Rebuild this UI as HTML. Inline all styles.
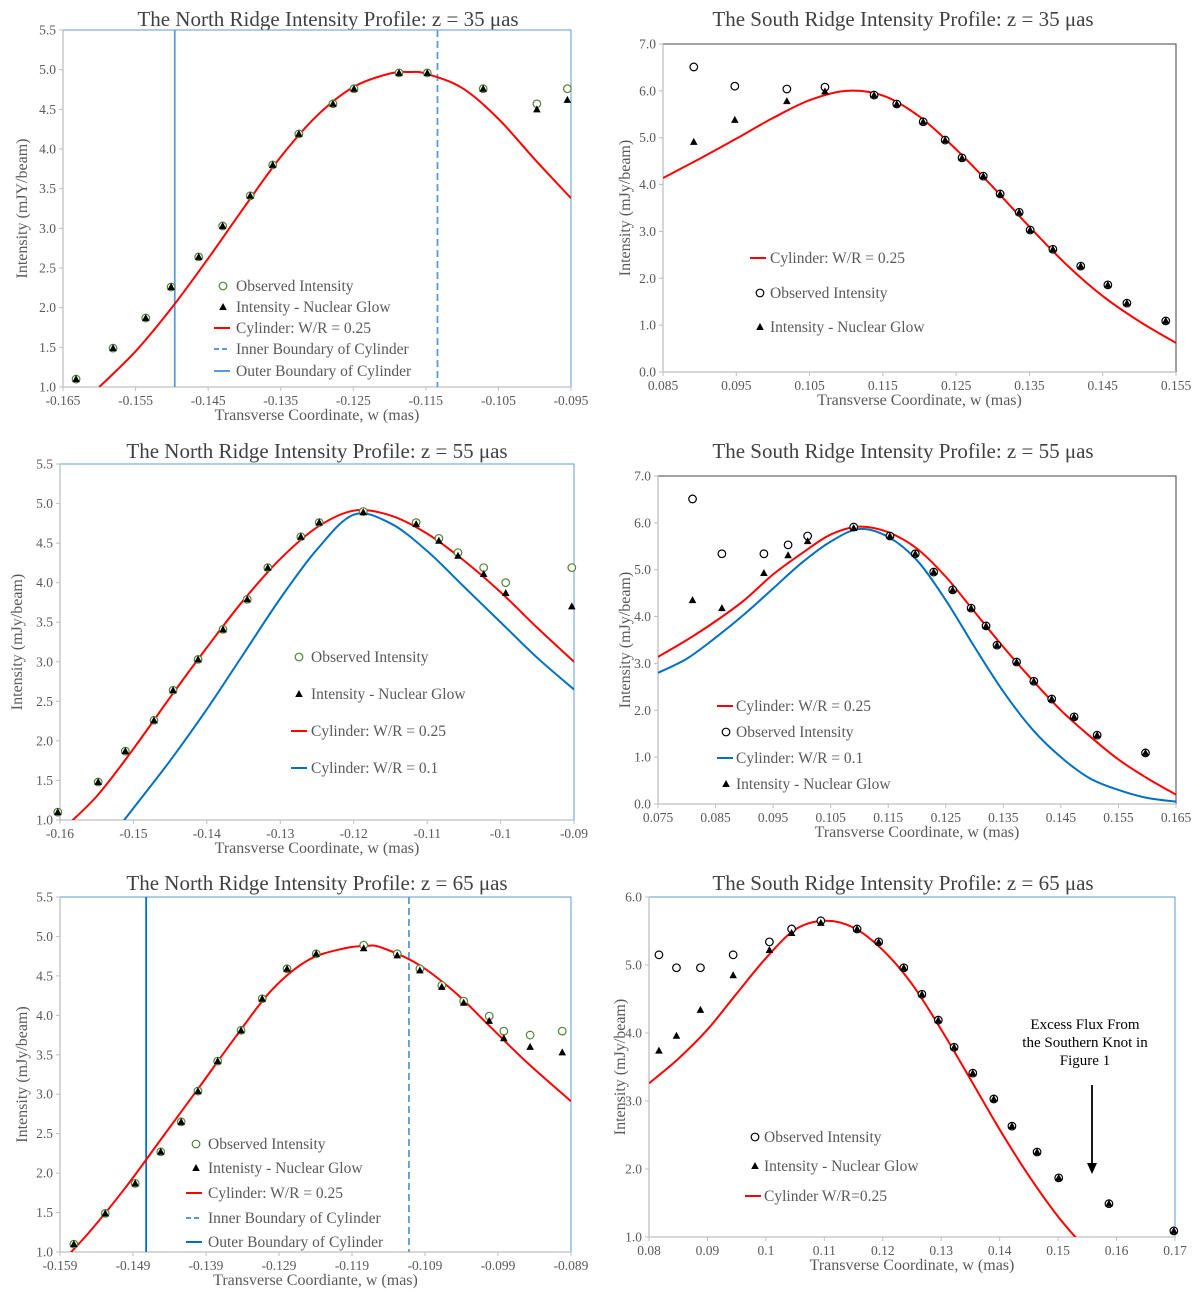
<!DOCTYPE html>
<html><head><meta charset="utf-8"><style>
html,body{margin:0;padding:0;background:#fff;}
svg{display:block;font-family:"Liberation Serif",serif;}
svg text{font-family:"Liberation Serif",serif;}
</style></head><body>
<svg id="fig" width="1200" height="1292" viewBox="0 0 1200 1292" xmlns="http://www.w3.org/2000/svg"></svg>
<script>
// ---- Panel 1: North z=35 ----
const p1ObsW=[-0.1632,-0.1581,-0.1536,-0.1501,-0.1463,-0.1430,-0.1392,-0.1361,-0.1325,-0.1278,-0.1249,-0.1187,-0.1148,-0.1071,-0.0997,-0.0955];
const p1ObsV=[1.10,1.49,1.87,2.26,2.64,3.03,3.41,3.80,4.19,4.57,4.76,4.96,4.96,4.76,4.57,4.76];
const p1TriW=[-0.1632,-0.1581,-0.1536,-0.1501,-0.1463,-0.1430,-0.1392,-0.1361,-0.1325,-0.1278,-0.1249,-0.1187,-0.1148,-0.1071,-0.0997,-0.0955];
const p1TriV=[1.10,1.49,1.87,2.26,2.64,3.03,3.41,3.80,4.19,4.57,4.76,4.96,4.96,4.76,4.50,4.62];
const p1CurveW=[-0.160,-0.155,-0.150,-0.145,-0.140,-0.135,-0.130,-0.125,-0.120,-0.117,-0.115,-0.110,-0.105,-0.100,-0.095];
const p1CurveV=[1.00,1.45,2.00,2.62,3.27,3.90,4.42,4.78,4.95,4.97,4.95,4.77,4.38,3.87,3.38];
const p1XTicks=[-0.165,-0.155,-0.145,-0.135,-0.125,-0.115,-0.105,-0.095];
const p1YTicks=[1.0,1.5,2.0,2.5,3.0,3.5,4.0,4.5,5.0,5.5];
const p1Bounds=[-0.1496,-0.1134];
// ---- Panel 2: South z=35 ----
const p2ObsW=[0.0892,0.0948,0.1019,0.1071,0.1138,0.1169,0.1205,0.1235,0.1258,0.1287,0.1310,0.1336,0.1351,0.1382,0.1420,0.1457,0.1483,0.1536];
const p2ObsV=[6.51,6.10,6.04,6.08,5.91,5.72,5.34,4.95,4.57,4.18,3.80,3.41,3.03,2.62,2.26,1.86,1.47,1.09];
const p2TriW=[0.0892,0.0948,0.1019,0.1071,0.1138,0.1169,0.1205,0.1235,0.1258,0.1287,0.1310,0.1336,0.1351,0.1382,0.1420,0.1457,0.1483,0.1536];
const p2TriV=[4.91,5.38,5.78,5.99,5.91,5.72,5.34,4.95,4.57,4.18,3.80,3.41,3.03,2.62,2.26,1.86,1.47,1.09];
const p2CurveW=[0.085,0.09,0.095,0.1,0.105,0.11,0.115,0.12,0.125,0.13,0.135,0.14,0.145,0.15,0.155];
const p2CurveV=[4.14,4.55,4.98,5.42,5.80,6.00,5.90,5.45,4.75,3.95,3.10,2.30,1.62,1.08,0.62];
const p2XTicks=[0.085,0.095,0.105,0.115,0.125,0.135,0.145,0.155];
const p2YTicks=[0,1,2,3,4,5,6,7];
// ---- Panel 3: North z=55 ----
const p3ObsW=[-0.1603,-0.1548,-0.1511,-0.1472,-0.1446,-0.1412,-0.1378,-0.1345,-0.1317,-0.1272,-0.1247,-0.1187,-0.1115,-0.1084,-0.1058,-0.1023,-0.0993,-0.0903];
const p3ObsV=[1.10,1.48,1.87,2.26,2.64,3.03,3.41,3.79,4.19,4.58,4.76,4.90,4.76,4.56,4.38,4.19,4.00,4.19];
const p3TriW=[-0.1603,-0.1548,-0.1511,-0.1472,-0.1446,-0.1412,-0.1378,-0.1345,-0.1317,-0.1272,-0.1247,-0.1187,-0.1115,-0.1084,-0.1058,-0.1023,-0.0993,-0.0903];
const p3TriV=[1.10,1.48,1.87,2.26,2.64,3.03,3.41,3.79,4.19,4.58,4.76,4.89,4.74,4.53,4.34,4.11,3.87,3.70];
const p3RedW=[-0.16,-0.155,-0.15,-0.145,-0.14,-0.135,-0.13,-0.125,-0.12,-0.115,-0.11,-0.105,-0.1,-0.095,-0.09];
const p3RedV=[0.85,1.30,1.90,2.55,3.18,3.78,4.30,4.70,4.91,4.85,4.62,4.28,3.88,3.43,3.00];
const p3BlueW=[-0.155,-0.15,-0.145,-0.14,-0.135,-0.13,-0.125,-0.12,-0.115,-0.11,-0.105,-0.1,-0.095,-0.09];
const p3BlueV=[0.55,1.15,1.75,2.40,3.10,3.80,4.42,4.86,4.75,4.40,3.95,3.50,3.05,2.65];
const p3XTicks=[-0.16,-0.15,-0.14,-0.13,-0.12,-0.11,-0.1,-0.09];
const p3YTicks=[1.0,1.5,2.0,2.5,3.0,3.5,4.0,4.5,5.0,5.5];
// ---- Panel 4: South z=55 ----
const p4ObsW=[0.0810,0.0861,0.0934,0.0976,0.1010,0.1090,0.1153,0.1197,0.1229,0.1262,0.1294,0.1320,0.1339,0.1373,0.1403,0.1434,0.1473,0.1513,0.1597];
const p4ObsV=[6.51,5.34,5.34,5.53,5.72,5.91,5.72,5.34,4.95,4.57,4.18,3.80,3.39,3.03,2.62,2.24,1.86,1.47,1.09];
const p4TriW=[0.0810,0.0861,0.0934,0.0976,0.1010,0.1090,0.1153,0.1197,0.1229,0.1262,0.1294,0.1320,0.1339,0.1373,0.1403,0.1434,0.1473,0.1513,0.1597];
const p4TriV=[4.35,4.18,4.93,5.31,5.61,5.89,5.72,5.34,4.95,4.57,4.18,3.80,3.39,3.03,2.62,2.24,1.86,1.47,1.09];
const p4RedW=[0.075,0.08,0.085,0.09,0.095,0.1,0.105,0.11,0.115,0.12,0.125,0.13,0.135,0.14,0.145,0.15,0.155,0.16,0.165];
const p4RedV=[3.14,3.50,3.90,4.35,4.90,5.35,5.75,5.92,5.80,5.45,4.85,4.10,3.35,2.65,2.00,1.45,0.95,0.55,0.20];
const p4BlueW=[0.075,0.08,0.085,0.09,0.095,0.1,0.105,0.11,0.115,0.12,0.125,0.13,0.135,0.14,0.145,0.15,0.155,0.16,0.165];
const p4BlueV=[2.80,3.10,3.55,4.05,4.60,5.15,5.60,5.87,5.70,5.20,4.35,3.35,2.40,1.60,1.00,0.55,0.30,0.13,0.05];
const p4XTicks=[0.075,0.085,0.095,0.105,0.115,0.125,0.135,0.145,0.155,0.165];
const p4YTicks=[0,1,2,3,4,5,6,7];
// ---- Panel 5: North z=65 ----
const p5ObsW=[-0.1571,-0.1528,-0.1487,-0.1452,-0.1424,-0.1401,-0.1374,-0.1342,-0.1313,-0.1279,-0.1239,-0.1174,-0.1128,-0.1097,-0.1067,-0.1037,-0.1002,-0.0982,-0.0946,-0.0902];
const p5ObsV=[1.10,1.49,1.87,2.27,2.65,3.04,3.42,3.81,4.21,4.59,4.78,4.89,4.78,4.59,4.38,4.18,3.99,3.80,3.75,3.80];
const p5TriW=[-0.1571,-0.1528,-0.1487,-0.1452,-0.1424,-0.1401,-0.1374,-0.1342,-0.1313,-0.1279,-0.1239,-0.1174,-0.1128,-0.1097,-0.1067,-0.1037,-0.1002,-0.0982,-0.0946,-0.0902];
const p5TriV=[1.10,1.49,1.87,2.27,2.65,3.04,3.42,3.81,4.21,4.59,4.78,4.85,4.76,4.57,4.36,4.16,3.93,3.71,3.60,3.53];
const p5CurveW=[-0.159,-0.155,-0.15,-0.145,-0.14,-0.135,-0.13,-0.125,-0.12,-0.117,-0.115,-0.11,-0.105,-0.1,-0.095,-0.089];
const p5CurveV=[0.85,1.25,1.82,2.45,3.08,3.72,4.32,4.70,4.85,4.88,4.86,4.65,4.30,3.85,3.40,2.91];
const p5XTicks=[-0.159,-0.149,-0.139,-0.129,-0.119,-0.109,-0.099,-0.089];
const p5YTicks=[1.0,1.5,2.0,2.5,3.0,3.5,4.0,4.5,5.0,5.5];
const p5Bounds=[-0.1472,-0.1112];
// ---- Panel 6: South z=65 ----
const p6ObsW=[0.0817,0.0847,0.0888,0.0944,0.1006,0.1044,0.1094,0.1156,0.1193,0.1236,0.1267,0.1295,0.1322,0.1354,0.1390,0.1421,0.1464,0.1501,0.1587,0.1698];
const p6ObsV=[5.15,4.96,4.96,5.15,5.34,5.53,5.65,5.53,5.34,4.96,4.57,4.19,3.79,3.41,3.03,2.63,2.25,1.87,1.49,1.09];
const p6TriW=[0.0817,0.0847,0.0888,0.0944,0.1006,0.1044,0.1094,0.1156,0.1193,0.1236,0.1267,0.1295,0.1322,0.1354,0.1390,0.1421,0.1464,0.1501,0.1587,0.1698];
const p6TriV=[3.74,3.96,4.34,4.85,5.22,5.47,5.62,5.53,5.34,4.96,4.57,4.19,3.79,3.41,3.03,2.63,2.25,1.87,1.49,1.09];
const p6CurveW=[0.08,0.085,0.09,0.095,0.1,0.105,0.11,0.115,0.12,0.125,0.13,0.135,0.14,0.145,0.15,0.155];
const p6CurveV=[3.26,3.62,4.05,4.58,5.10,5.52,5.65,5.55,5.22,4.72,4.05,3.32,2.58,1.90,1.30,0.80];
const p6XTicks=[0.08,0.09,0.1,0.11,0.12,0.13,0.14,0.15,0.16,0.17];
const p6YTicks=[1,2,3,4,5,6];

const NS="http://www.w3.org/2000/svg";
const FF='"Liberation Serif", serif';
const fig=document.getElementById('fig');
const TXT="#595959", AX="#bfbfbf", BLUE="#5b9bd5", DBLUE="#0070c0", RED="#ff0000", GREEN="#548235";
function mk(tag,attrs,parent){const e=document.createElementNS(NS,tag);for(const k in attrs)e.setAttribute(k,attrs[k]);if(tag=='text')e.setAttribute('font-family',FF);(parent||fig).appendChild(e);return e;}
function smooth(pts){let d="M"+pts[0][0]+","+pts[0][1];for(let i=0;i<pts.length-1;i++){const p0=pts[Math.max(0,i-1)],p1=pts[i],p2=pts[i+1],p3=pts[Math.min(pts.length-1,i+2)];
const c1x=p1[0]+(p2[0]-p0[0])/6,c1y=p1[1]+(p2[1]-p0[1])/6,c2x=p2[0]-(p3[0]-p1[0])/6,c2y=p2[1]-(p3[1]-p1[1])/6;d+=" C"+c1x+","+c1y+" "+c2x+","+c2y+" "+p2[0]+","+p2[1];}return d;}

function panel(o){
  const g=mk('g',{});
  
  
  const sx=w=>o.x0+(w-o.xmin)/(o.xmax-o.xmin)*(o.x1-o.x0);
  const sy=v=>o.y1-(v-o.ymin)/(o.ymax-o.ymin)*(o.y1-o.y0);
  const t=mk('text',{x:o.tx,y:o.ty,'text-anchor':'middle','font-size':21,fill:'#404040'},g);t.textContent=o.title;
  
  const fr=mk('path',{d:`M${o.x0},${o.y0}H${o.x1}V${o.y1}`,fill:'none',stroke:o.frame,'stroke-width':1},g);
  
  const ya=mk('line',{x1:o.x0,y1:o.y0,x2:o.x0,y2:o.y1,stroke:AX,'stroke-width':1.3},g);
  
  const xa=mk('line',{x1:o.x0,y1:o.y1,x2:o.x1,y2:o.y1,stroke:AX,'stroke-width':1.3},g);
  
  o.yt.forEach(v=>{const y=sy(v);mk('line',{x1:o.x0-4,y1:y,x2:o.x0,y2:y,stroke:AX},g);
    const l=mk('text',{x:o.x0-7,y:y+4.5,'text-anchor':'end','font-size':13.5,fill:TXT},g);l.textContent=v.toFixed(1);
    });
  o.xt.forEach(v=>{const x=sx(v);mk('line',{x1:x,y1:o.y1,x2:x,y2:o.y1+4,stroke:AX},g);
    const l=mk('text',{x:x,y:o.y1+18,'text-anchor':'middle','font-size':13.5,fill:TXT},g);l.textContent=o.fmt?o.fmt(v):String(v);
    });
  const xl=mk('text',{x:(o.x0+o.x1)/2,y:o.y1+33,'text-anchor':'middle','font-size':16,fill:TXT},g);xl.textContent=o.xlab;
  
  const yc=(o.y0+o.y1)/2;
  const yl=mk('text',{x:o.ylx,y:yc,'text-anchor':'middle','font-size':16,fill:TXT,transform:`rotate(-90 ${o.ylx} ${yc})`},g);yl.textContent=o.ylab;
  
  const cid='clip'+o.name;const cp=mk('clipPath',{id:cid},g);mk('rect',{x:o.x0,y:o.y0,width:o.x1-o.x0,height:o.y1-o.y0},cp);
  (o.bounds||[]).forEach((b,i)=>{const ln=mk('line',{x1:sx(b),y1:o.y0,x2:sx(b),y2:o.y1,stroke:i==0?o.bcol:BLUE,'stroke-width':1.8,'stroke-dasharray':i==0?'':'7,4'},g);
    });
  o.curves.forEach(c=>{const pts=c.w.map((w,i)=>[sx(w),sy(c.v[i])]);
    const p=mk('path',{d:smooth(pts),fill:'none',stroke:c.col,'stroke-width':2,'clip-path':`url(#${cid})`},g);
    });
  o.obsW.forEach((w,i)=>{const c=mk('circle',{cx:sx(w),cy:sy(o.obsV[i]),r:3.8,fill:'#fff',stroke:o.ocol,'stroke-width':1.2},g);
    });
  o.triW.forEach((w,i)=>{const x=sx(w),y=sy(o.triV[i]);const p=mk('path',{d:`M${x},${y-4}L${x+3.8},${y+3}L${x-3.8},${y+3}Z`,fill:'#000'},g);
    });
  o.legend.forEach(e=>{const lg=mk('g',{},g);
    const mx=e.mx,y=e.y;
    if(e.k=='o')mk('circle',{cx:mx,cy:y,r:3.8,fill:'#fff',stroke:o.ocol,'stroke-width':1.2},lg);
    else if(e.k=='t')mk('path',{d:`M${mx},${y-4}L${mx+3.8},${y+3}L${mx-3.8},${y+3}Z`,fill:'#000'},lg);
    else mk('line',{x1:mx-8,y1:y,x2:mx+8,y2:y,stroke:e.col,'stroke-width':2,'stroke-dasharray':e.dash||''},lg);
    const tx=mk('text',{x:e.tx,y:y+5,'font-size':15.5,fill:TXT},lg);tx.textContent=e.label;});
  return {g,sx,sy};
}
const fmt3=v=>v.toFixed(3), fmtS=v=>String(+v.toFixed(3));
panel({name:'north-35',title:'The North Ridge Intensity Profile: z = 35 μas',tx:328,ty:26,x0:63,x1:571,y0:30,y1:387,xmin:-0.165,xmax:-0.095,ymin:1,ymax:5.5,
 xt:p1XTicks,yt:p1YTicks,fmt:fmt3,xlab:'Transverse Coordinate, w (mas)',ylab:'Intensity (mJY/beam)',ylx:27,frame:BLUE,ocol:GREEN,
 bounds:p1Bounds,bcol:BLUE,obsW:p1ObsW,obsV:p1ObsV,triW:p1TriW,triV:p1TriV,
 curves:[{w:p1CurveW,v:p1CurveV,col:RED,name:'cylinder-025-curve'}],
 legend:[{k:'o',mx:223,tx:236,y:286,label:'Observed Intensity'},{k:'t',mx:223,tx:236,y:307,label:'Intensity - Nuclear Glow'},
 {k:'l',col:RED,mx:222,tx:236,y:328,label:'Cylinder: W/R = 0.25'},{k:'l',col:BLUE,dash:'5,3',mx:222,tx:236,y:349,label:'Inner Boundary of Cylinder'},
 {k:'l',col:BLUE,mx:222,tx:236,y:371,label:'Outer Boundary of Cylinder'}]});
panel({name:'south-35',title:'The South Ridge Intensity Profile: z = 35 μas',tx:903,ty:26,x0:663,x1:1176,y0:44,y1:372,xmin:0.085,xmax:0.155,ymin:0,ymax:7,
 xt:p2XTicks,yt:p2YTicks,fmt:fmt3,xlab:'Transverse Coordinate, w (mas)',ylab:'Intensity (mJy/beam)',ylx:630,frame:'#404040',ocol:'#000',
 obsW:p2ObsW,obsV:p2ObsV,triW:p2TriW,triV:p2TriV,
 curves:[{w:p2CurveW,v:p2CurveV,col:RED,name:'cylinder-025-curve'}],
 legend:[{k:'l',col:RED,mx:758,tx:770,y:258,label:'Cylinder: W/R = 0.25'},{k:'o',mx:760,tx:770,y:293,label:'Observed Intensity'},
 {k:'t',mx:760,tx:770,y:327,label:'Intensity - Nuclear Glow'}]});
panel({name:'north-55',title:'The North Ridge Intensity Profile: z = 55 μas',tx:317,ty:458,x0:60,x1:574,y0:464,y1:820,xmin:-0.16,xmax:-0.09,ymin:1,ymax:5.5,
 xt:p3XTicks,yt:p3YTicks,fmt:fmtS,xlab:'Transverse Coordinate, w (mas)',ylab:'Intensity (mJy/beam)',ylx:22,frame:BLUE,ocol:GREEN,
 obsW:p3ObsW,obsV:p3ObsV,triW:p3TriW,triV:p3TriV,
 curves:[{w:p3RedW,v:p3RedV,col:RED,name:'cylinder-025-curve'},{w:p3BlueW,v:p3BlueV,col:DBLUE,name:'cylinder-01-curve'}],
 legend:[{k:'o',mx:299,tx:311,y:657,label:'Observed Intensity'},{k:'t',mx:299,tx:311,y:694,label:'Intensity - Nuclear Glow'},
 {k:'l',col:RED,mx:299,tx:311,y:731,label:'Cylinder: W/R = 0.25'},{k:'l',col:DBLUE,mx:299,tx:311,y:768,label:'Cylinder: W/R = 0.1'}]});
panel({name:'south-55',title:'The South Ridge Intensity Profile: z = 55 μas',tx:903,ty:458,x0:658,x1:1176,y0:476,y1:804,xmin:0.075,xmax:0.165,ymin:0,ymax:7,
 xt:p4XTicks,yt:p4YTicks,fmt:fmt3,xlab:'Transverse Coordinate, w (mas)',ylab:'Intensity (mJy/beam)',ylx:630,frame:'#404040',ocol:'#000',
 obsW:p4ObsW,obsV:p4ObsV,triW:p4TriW,triV:p4TriV,
 curves:[{w:p4RedW,v:p4RedV,col:RED,name:'cylinder-025-curve'},{w:p4BlueW,v:p4BlueV,col:DBLUE,name:'cylinder-01-curve'}],
 legend:[{k:'l',col:RED,mx:725,tx:736,y:706,label:'Cylinder: W/R = 0.25'},{k:'o',mx:726,tx:736,y:732,label:'Observed Intensity'},
 {k:'l',col:DBLUE,mx:725,tx:736,y:758,label:'Cylinder: W/R = 0.1'},{k:'t',mx:726,tx:736,y:784,label:'Intensity - Nuclear Glow'}]});
panel({name:'north-65',title:'The North Ridge Intensity Profile: z = 65 μas',tx:317,ty:890,x0:60,x1:571,y0:897,y1:1252,xmin:-0.159,xmax:-0.089,ymin:1,ymax:5.5,
 xt:p5XTicks,yt:p5YTicks,fmt:fmt3,xlab:'Transverse Coordiante, w (mas)',ylab:'Intensity (mJy/beam)',ylx:27,frame:BLUE,ocol:GREEN,
 bounds:p5Bounds,bcol:DBLUE,obsW:p5ObsW,obsV:p5ObsV,triW:p5TriW,triV:p5TriV,
 curves:[{w:p5CurveW,v:p5CurveV,col:RED,name:'cylinder-025-curve'}],
 legend:[{k:'o',mx:196,tx:208,y:1144,label:'Observed Intensity'},{k:'t',mx:196,tx:208,y:1168,label:'Intenisty - Nuclear Glow'},
 {k:'l',col:RED,mx:194,tx:208,y:1193,label:'Cylinder: W/R = 0.25'},{k:'l',col:BLUE,dash:'5,3',mx:194,tx:208,y:1218,label:'Inner Boundary of Cylinder'},
 {k:'l',col:DBLUE,mx:194,tx:208,y:1242,label:'Outer Boundary of Cylinder'}]});
panel({name:'south-65',title:'The South Ridge Intensity Profile: z = 65 μas',tx:903,ty:890,x0:649,x1:1175,y0:897,y1:1237,xmin:0.08,xmax:0.17,ymin:1,ymax:6,
 xt:p6XTicks,yt:p6YTicks,fmt:fmtS,xlab:'Transverse Coordinate, w (mas)',ylab:'Intensity (mJy/beam)',ylx:625,frame:BLUE,ocol:'#000',
 obsW:p6ObsW,obsV:p6ObsV,triW:p6TriW,triV:p6TriV,
 curves:[{w:p6CurveW,v:p6CurveV,col:RED,name:'cylinder-025-curve'}],
 legend:[{k:'o',mx:755,tx:764,y:1137,label:'Observed Intensity'},{k:'t',mx:755,tx:764,y:1166,label:'Intensity - Nuclear Glow'},
 {k:'l',col:RED,mx:753,tx:764,y:1196,label:'Cylinder W/R=0.25'}]});
const an=mk('g',{});
['Excess Flux From','the Southern Knot in','Figure 1'].forEach((s,i)=>{const t=mk('text',{x:1085,y:1029+i*18,'text-anchor':'middle','font-size':15,fill:'#000'},an);t.textContent=s;});
mk('line',{x1:1092,y1:1085,x2:1092,y2:1166,stroke:'#000','stroke-width':1.8},an);
mk('path',{d:'M1087,1163L1092,1174L1097,1163Z',fill:'#000'},an);
</script>
</body></html>
